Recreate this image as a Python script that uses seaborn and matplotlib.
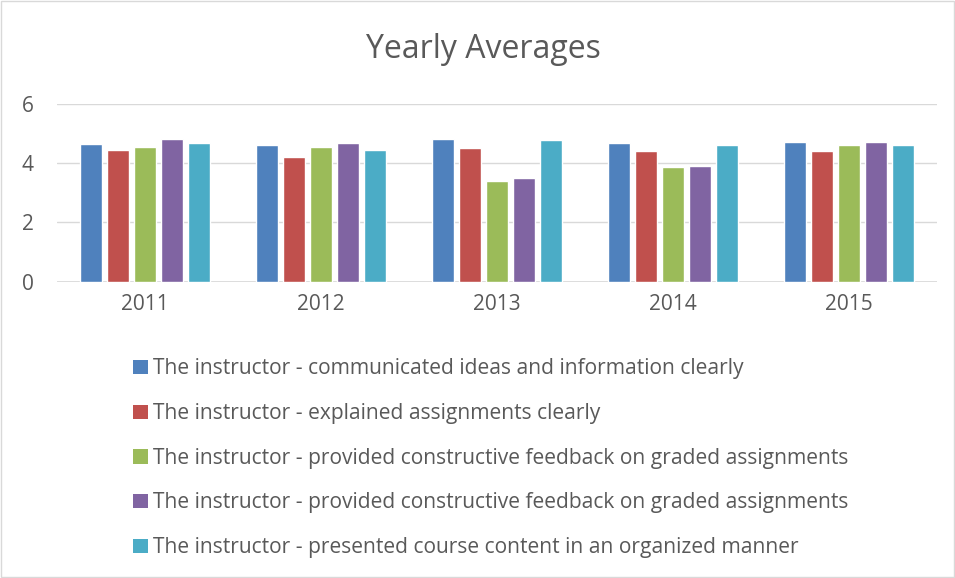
import pandas as pd
import matplotlib.pyplot as plt
import matplotlib.patches as mpatches
import seaborn as sns

years = ['2011', '2012', '2013', '2014', '2015']
questions = [
    'The instructor - communicated ideas and information clearly',
    'The instructor - explained assignments clearly',
    'The instructor - provided constructive feedback on graded assignments',
    'The instructor - provided constructive feedback on graded assignments ',
    'The instructor - presented course content in an organized manner',
]
communicated = [4.64, 4.62, 4.80, 4.67, 4.70]
explained = [4.44, 4.21, 4.51, 4.40, 4.40]
feedback_a = [4.55, 4.53, 3.41, 3.86, 4.61]
feedback_b = [4.80, 4.69, 3.49, 3.90, 4.72]
organized = [4.67, 4.44, 4.77, 4.61, 4.62]
colors = ['#4f81bd', '#c0504d', '#9bbb59', '#8064a2', '#4bacc6']

series = [communicated, explained, feedback_a, feedback_b, organized]
rows = []
for q, vals in zip(questions, series):
    for y, v in zip(years, vals):
        rows.append({'Year': y, 'Question': q, 'Average': v})
df = pd.DataFrame(rows)

sns.set_theme(style="white")
plt.rcParams['font.family'] = ['Open Sans', 'DejaVu Sans']
text_color = '#595959'

fig = plt.figure(figsize=(9.55, 5.78), dpi=100)
ax = fig.add_axes([57 / 955, 1 - 281.7 / 578, 880 / 955, 178 / 578])

sns.barplot(data=df, x='Year', y='Average', hue='Question', palette=colors,
            width=0.767, gap=0.22, ax=ax, legend=False, saturation=1)

ax.set_ylim(0, 6)
ax.set_xlim(-0.5, 4.5)
ax.set_yticks([0, 2, 4, 6])
ax.yaxis.grid(True, color='#d9d9d9', linewidth=1)
ax.set_axisbelow(True)
for s in ax.spines.values():
    s.set_visible(False)
ax.axhline(0, color='#d9d9d9', linewidth=1.2, zorder=0.5)
ax.set_xlabel('')
ax.set_ylabel('')
ax.tick_params(axis='x', length=0, pad=9, labelsize=15, labelcolor=text_color)
ax.tick_params(axis='y', length=0, pad=17, labelsize=15, labelcolor=text_color)

fig.text(0.506, 1 - 50 / 578, 'Yearly Averages', ha='center', va='center',
         fontsize=23, color=text_color)

handles = [mpatches.Patch(facecolor=c, edgecolor='none') for c in colors]
fig.legend(handles, questions, loc='upper left',
           bbox_to_anchor=(125 / 955, 1 - 350 / 578), frameon=False,
           fontsize=15.1, labelcolor=text_color, handlelength=0.68,
           handleheight=0.68, handletextpad=0.25, labelspacing=1.13,
           borderaxespad=0)

fig.patches.append(mpatches.Rectangle((0.001, 0.001), 0.998, 0.998,
                                      transform=fig.transFigure, fill=False,
                                      edgecolor='#d9d9d9', linewidth=1))

plt.savefig('out.png', dpi=100)
plt.close()
